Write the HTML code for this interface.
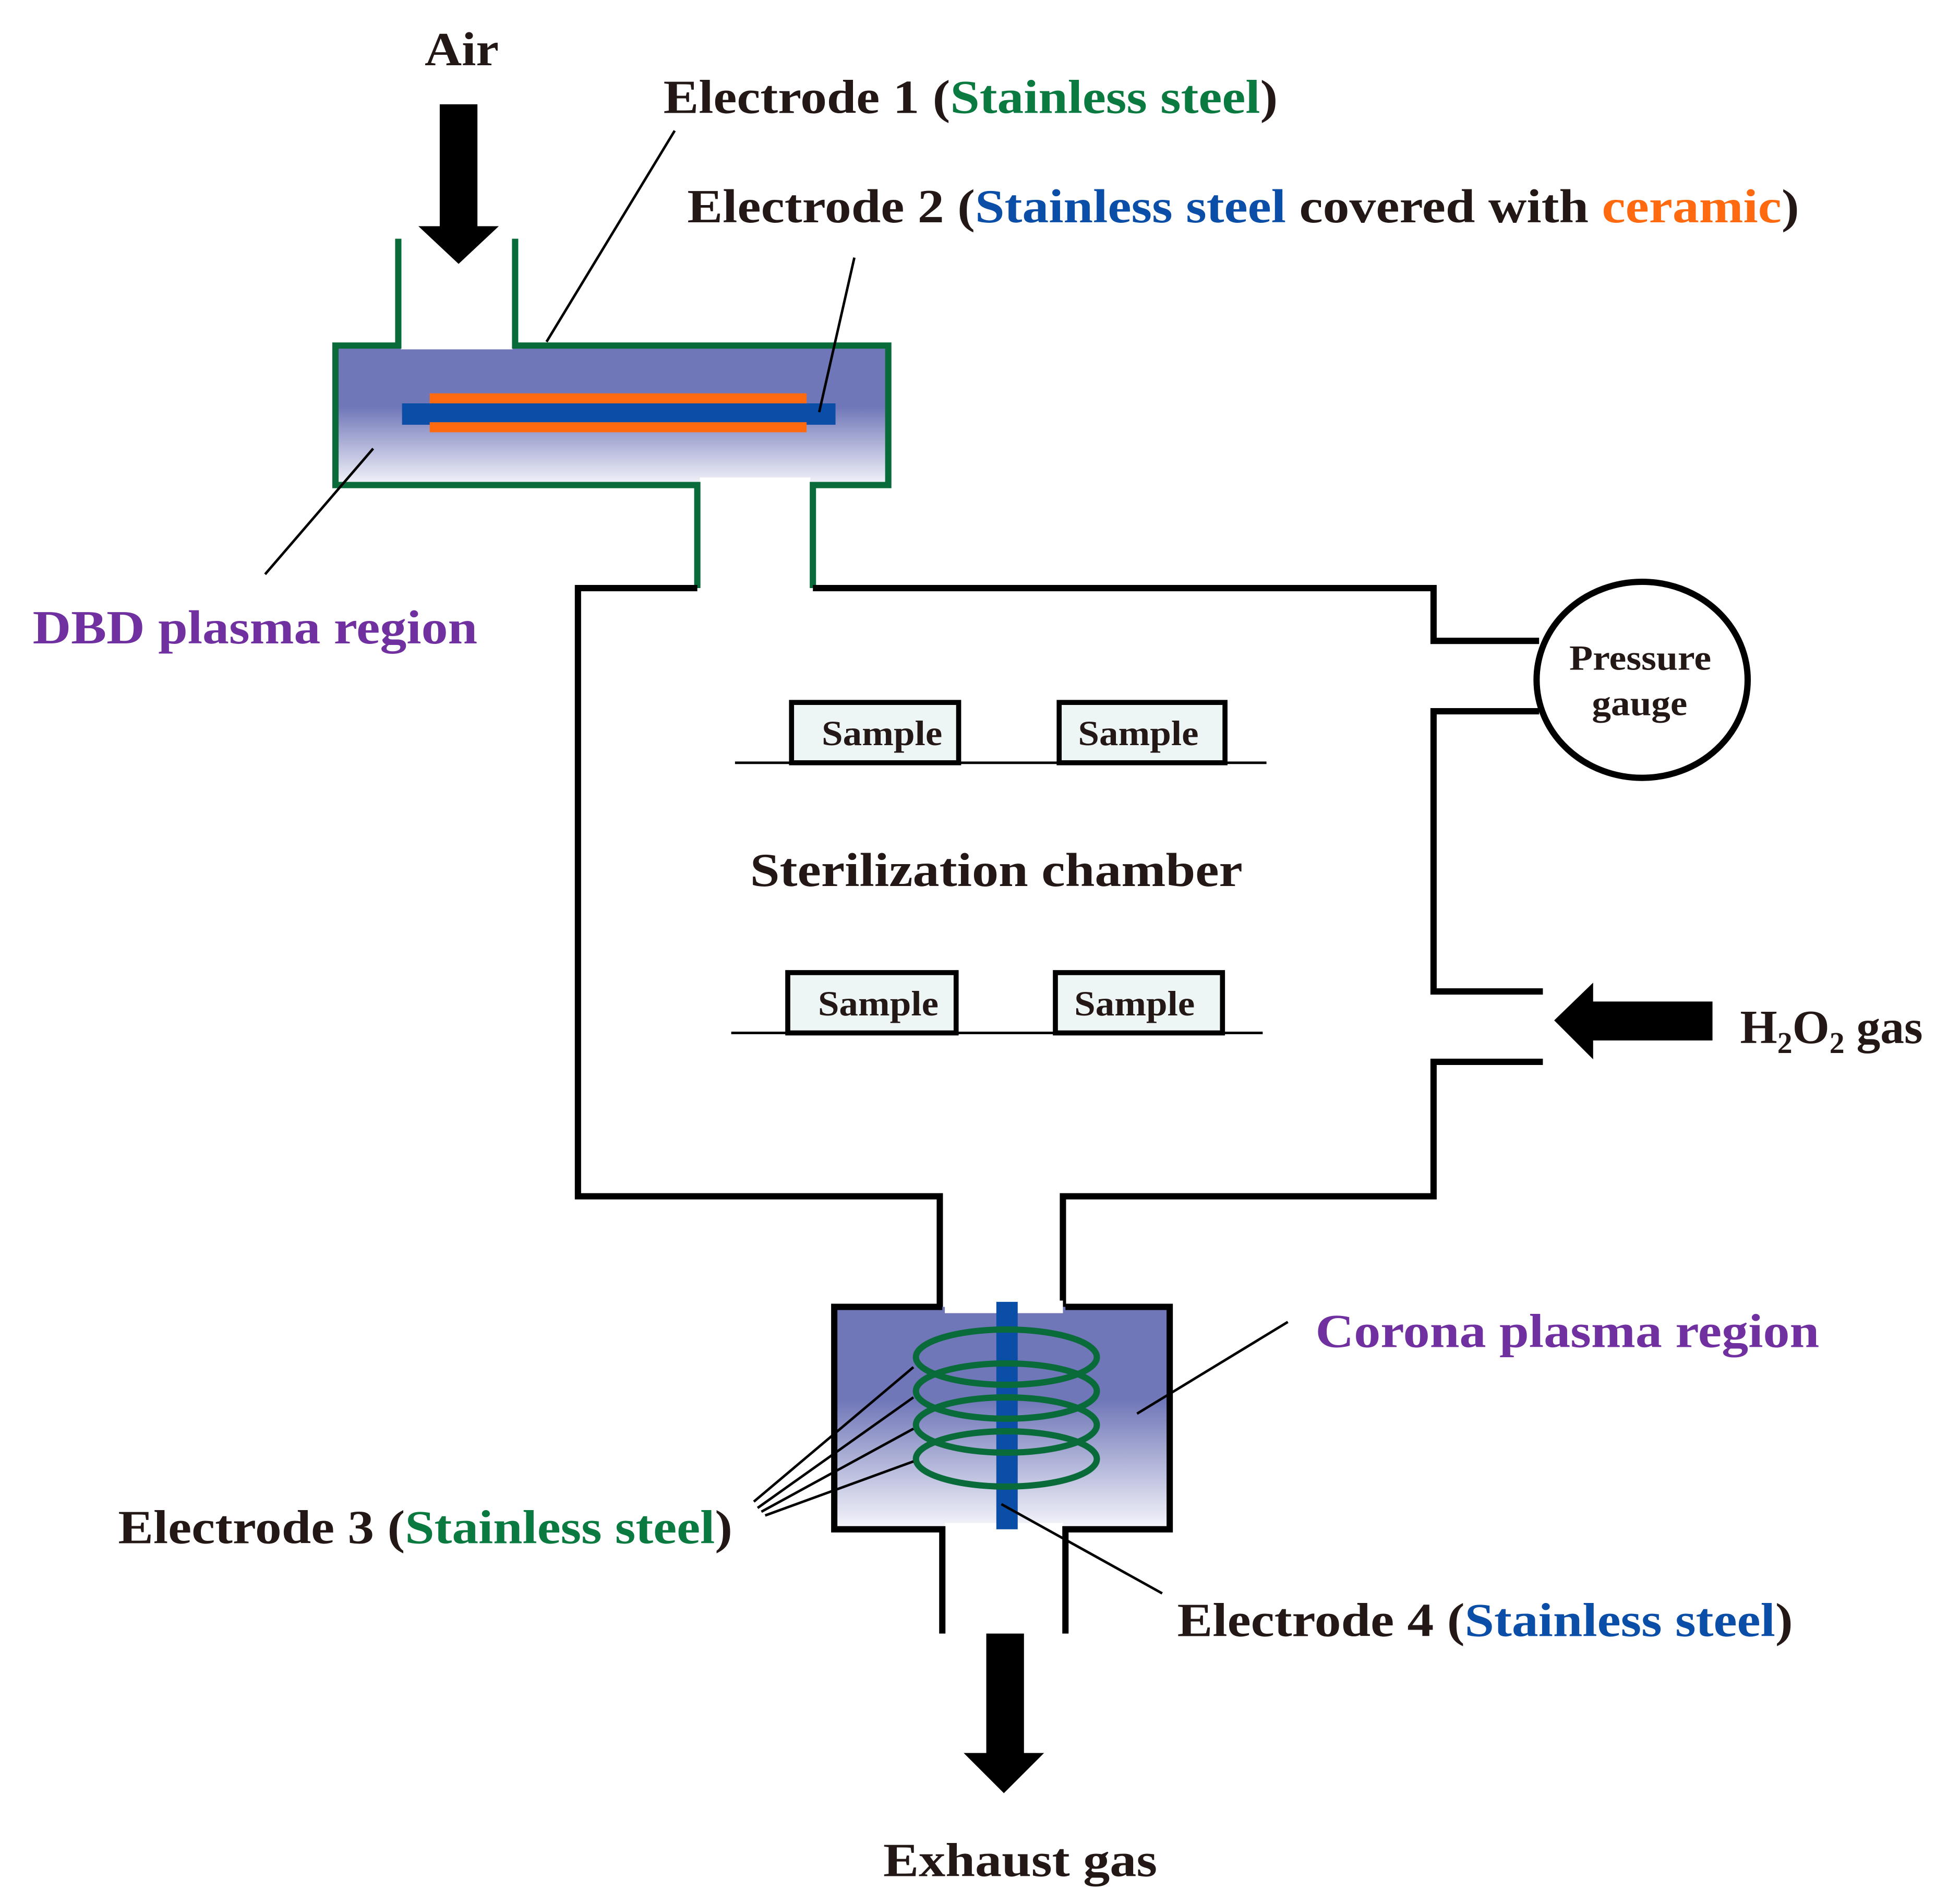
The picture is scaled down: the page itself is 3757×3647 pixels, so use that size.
<!DOCTYPE html>
<html><head><meta charset="utf-8"><style>html,body{margin:0;padding:0;background:#fff}svg{display:block}</style></head>
<body>
<svg width="3757" height="3647" viewBox="0 0 1560 1514.4" preserveAspectRatio="none" xmlns="http://www.w3.org/2000/svg" font-family="'Liberation Serif', serif" font-weight="bold" fill="#231815">
<defs>
<linearGradient id="g1" x1="0" y1="0" x2="0" y2="1">
<stop offset="0" stop-color="#7077b8"/><stop offset="0.45" stop-color="#7077b8"/><stop offset="1" stop-color="#f4f4fa"/>
</linearGradient>
<linearGradient id="g2" x1="0" y1="0" x2="0" y2="1">
<stop offset="0" stop-color="#7077b8"/><stop offset="0.42" stop-color="#7077b8"/><stop offset="1" stop-color="#f6f6fb"/>
</linearGradient>
</defs>
<rect width="1560" height="1515" fill="#fff"/>

<polygon points="350,83 380,83 380,180 397,180 365,210 333,180 350,180" fill="#000"/>
<text x="338" y="52" font-size="38" textLength="59" lengthAdjust="spacingAndGlyphs">Air</text>

<rect x="267" y="273" width="440" height="113" fill="url(#g1)"/>
<rect x="557" y="380" width="88" height="10" fill="#fff"/>
<rect x="319" y="268" width="89" height="10" fill="#fff"/>
<path d="M317,190 V275 H267 V386 H555 V468 M647,468 V386 H707 V275 H410 V190" fill="none" stroke="#0a6b3a" stroke-width="5"/>
<rect x="320" y="321" width="345" height="17" fill="#0a4ea8"/>
<rect x="342" y="313" width="300" height="8" fill="#ff6a10"/>
<rect x="342" y="336" width="300" height="8" fill="#ff6a10"/>
<line x1="435" y1="272" x2="537" y2="104" stroke="#000" stroke-width="2"/>
<line x1="652" y1="328" x2="680" y2="205" stroke="#000" stroke-width="2"/>
<line x1="297" y1="357" x2="211" y2="457" stroke="#000" stroke-width="2"/>

<text x="528" y="90" font-size="38" textLength="489" lengthAdjust="spacingAndGlyphs">Electrode 1 (<tspan fill="#0a7a40">Stainless steel</tspan>)</text>
<text x="547" y="177" font-size="38" textLength="885" lengthAdjust="spacingAndGlyphs">Electrode 2 (<tspan fill="#0a4ea8">Stainless steel</tspan> covered with <tspan fill="#ff6a10">ceramic</tspan>)</text>
<text x="26" y="512" font-size="38" fill="#7030a0" textLength="354" lengthAdjust="spacingAndGlyphs">DBD plasma region</text>

<path d="M555,468 H460 V952 H748 V1040" fill="none" stroke="#000" stroke-width="5"/>
<path d="M647,468 H1141 V510 H1225 M1225,566 H1141 V789 H1228 M1228,845 H1141 V952 H846 V1040" fill="none" stroke="#000" stroke-width="5"/>

<ellipse cx="1307" cy="541" rx="84" ry="78" fill="#fff" stroke="#000" stroke-width="5"/>
<text x="1249" y="533" font-size="28" textLength="113" lengthAdjust="spacingAndGlyphs">Pressure</text>
<text x="1267" y="569" font-size="28" textLength="76" lengthAdjust="spacingAndGlyphs">gauge</text>

<line x1="585" y1="607" x2="1008" y2="607" stroke="#000" stroke-width="2"/>
<line x1="582" y1="822" x2="1005" y2="822" stroke="#000" stroke-width="2"/>
<g fill="#eef5f5" stroke="#000" stroke-width="4">
<rect x="630" y="559" width="133" height="48"/>
<rect x="843" y="559" width="132" height="48"/>
<rect x="627" y="774" width="134" height="48"/>
<rect x="840" y="774" width="133" height="48"/>
</g>
<g font-size="28">
<text x="654" y="593" textLength="96" lengthAdjust="spacingAndGlyphs">Sample</text>
<text x="858" y="593" textLength="96" lengthAdjust="spacingAndGlyphs">Sample</text>
<text x="651" y="808" textLength="96" lengthAdjust="spacingAndGlyphs">Sample</text>
<text x="855" y="808" textLength="96" lengthAdjust="spacingAndGlyphs">Sample</text>
</g>
<text x="597" y="705" font-size="38" textLength="392" lengthAdjust="spacingAndGlyphs">Sterilization chamber</text>

<polygon points="1237,812 1268,782 1268,797 1363,797 1363,828 1268,828 1268,843" fill="#000"/>
<text x="1385" y="830" font-size="38">H<tspan font-size="24" dy="8">2</tspan><tspan dy="-8">O</tspan><tspan font-size="24" dy="8">2</tspan><tspan dy="-8"> gas</tspan></text>

<rect x="664" y="1040" width="267" height="177" fill="url(#g2)"/>
<rect x="752" y="1035" width="94" height="10" fill="#fff"/>
<rect x="752" y="1212" width="94" height="10" fill="#fff"/>
<path d="M750,1040 H664 V1217 H750 V1300 M848,1300 V1217 H931 V1040 H848" fill="none" stroke="#000" stroke-width="5"/>
<rect x="793" y="1036" width="17" height="181" fill="#0a4ea8"/>
<g fill="none" stroke="#0a6b3a" stroke-width="5">
<ellipse cx="801" cy="1080" rx="72" ry="22"/>
<ellipse cx="801" cy="1107" rx="72" ry="22"/>
<ellipse cx="801" cy="1134" rx="72" ry="22"/>
<ellipse cx="801" cy="1161" rx="72" ry="22"/>
</g>
<g stroke="#000" stroke-width="2">
<line x1="600" y1="1195" x2="727" y2="1088"/>
<line x1="603" y1="1200" x2="727" y2="1112"/>
<line x1="606" y1="1203" x2="727" y2="1137"/>
<line x1="609" y1="1206" x2="727" y2="1163"/>
<line x1="797" y1="1197" x2="925" y2="1268"/>
<line x1="905" y1="1125" x2="1025" y2="1052"/>
</g>
<text x="1047" y="1072" font-size="38" fill="#7030a0" textLength="401" lengthAdjust="spacingAndGlyphs">Corona plasma region</text>
<text x="94" y="1228" font-size="38" textLength="489" lengthAdjust="spacingAndGlyphs">Electrode 3 (<tspan fill="#0a7a40">Stainless steel</tspan>)</text>
<text x="937" y="1302" font-size="38" textLength="490" lengthAdjust="spacingAndGlyphs">Electrode 4 (<tspan fill="#0a4ea8">Stainless steel</tspan>)</text>

<polygon points="785,1300 815,1300 815,1395 831,1395 799,1427 767,1395 785,1395" fill="#000"/>
<text x="703" y="1493" font-size="38" textLength="218" lengthAdjust="spacingAndGlyphs">Exhaust gas</text>
</svg>
</body></html>
